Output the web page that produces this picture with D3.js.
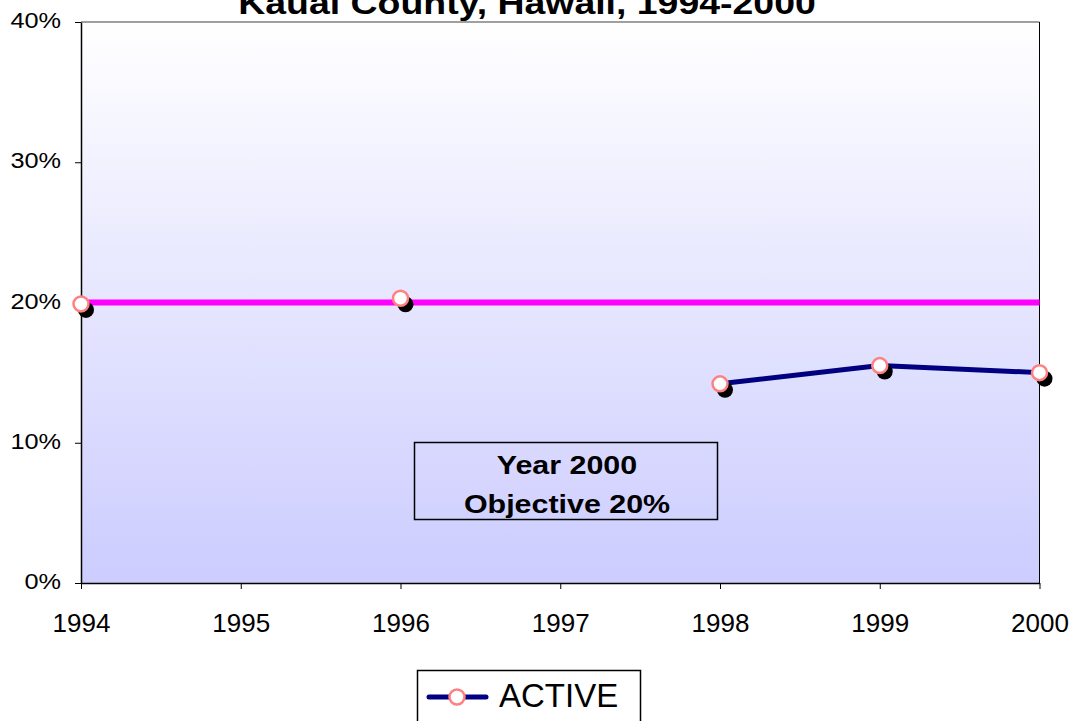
<!DOCTYPE html>
<html>
<head>
<meta charset="utf-8">
<script src="https://cdn.jsdelivr.net/npm/d3@7"></script>
<style>
  body { margin: 0; background: #fff; }
  svg { display: block; font-family: "Liberation Sans", Arial, sans-serif; }
</style>
</head>
<body>
<div id="chart"></div>
<script>
// Chart data
const years = [1994, 1995, 1996, 1997, 1998, 1999, 2000];
const activeValues = [19.9, null, 20.3, null, 14.2, 15.5, 15.0];
const objectiveValues = [20, 20, 20, 20, 20, 20, 20];
const yTicks = [0, 10, 20, 30, 40];
const titleText = 'Kauai County, Hawaii, 1994-2000';
const noteLines = ['Year 2000', 'Objective 20%'];
const legendLabel = 'ACTIVE';

const width = 1074;
const height = 721;
const margin = { top: 22, right: 34, bottom: 138, left: 81 };

const svg = d3.select('#chart')
    .append('svg')
    .attr('width', width)
    .attr('height', height);

const x = d3.scaleLinear()
    .domain([1994, 2000])
    .range([margin.left, width - margin.right - 0.5]);

const y = d3.scaleLinear()
    .domain([0, 40])
    .range([height - margin.bottom, margin.top]);

// Background gradient for the plot area
const defs = svg.append('defs');
const grad = defs.append('linearGradient')
    .attr('id', 'bg')
    .attr('x1', 0).attr('y1', 0)
    .attr('x2', 0).attr('y2', 1);
grad.append('stop').attr('offset', '0%').attr('stop-color', '#ffffff');
grad.append('stop').attr('offset', '100%').attr('stop-color', '#ccccff');

svg.append('rect')
    .attr('x', x(1994))
    .attr('y', y(40))
    .attr('width', x(2000) - x(1994))
    .attr('height', y(0) - y(40))
    .attr('fill', 'url(#bg)');

// Plot border: gray top, black right
svg.append('line')
    .attr('x1', x(1994)).attr('x2', x(2000))
    .attr('y1', y(40)).attr('y2', y(40))
    .attr('stroke', '#808080')
    .attr('stroke-width', 1.5);
svg.append('line')
    .attr('x1', x(2000)).attr('x2', x(2000))
    .attr('y1', y(40)).attr('y2', y(0))
    .attr('stroke', '#000')
    .attr('stroke-width', 1);

// Axes
const xAxis = svg.append('g')
    .attr('transform', `translate(0,${y(0)})`)
    .call(d3.axisBottom(x).tickValues(years).tickFormat(d3.format('d')).tickSize(6).tickSizeOuter(0));
xAxis.select('.domain').attr('stroke', '#000').attr('stroke-width', 1.5);
xAxis.selectAll('.tick line').attr('stroke', '#000');
xAxis.selectAll('.tick text')
    .attr('font-size', 26)
    .attr('font-family', '"Liberation Sans", Arial, sans-serif')
    .attr('fill', '#000')
    .attr('y', 0)
    .attr('dy', 0)
    .attr('transform', 'translate(0,49)');

const yAxis = svg.append('g')
    .attr('transform', `translate(${x(1994)},0)`)
    .call(d3.axisLeft(y).tickValues(yTicks).tickFormat(d => d + '%').tickSize(6).tickSizeOuter(0));
yAxis.select('.domain').attr('stroke', '#000').attr('stroke-width', 1.5);
yAxis.selectAll('.tick line').attr('stroke', '#000');
yAxis.selectAll('.tick text')
    .attr('font-size', 22)
    .attr('font-family', '"Liberation Sans", Arial, sans-serif')
    .attr('fill', '#000')
    .attr('x', 0)
    .attr('dy', '0.3em')
    .attr('transform', 'translate(-20,-1) scale(1.15,1)');

// Objective line
const objLine = d3.line()
    .x((d, i) => x(years[i]))
    .y(d => y(d));
svg.append('path')
    .datum(objectiveValues)
    .attr('d', objLine)
    .attr('fill', 'none')
    .attr('stroke', '#ff00ff')
    .attr('stroke-width', 6);

// Active series line (breaks where values are missing)
const activeLine = d3.line()
    .defined(d => d != null)
    .x((d, i) => x(years[i]))
    .y(d => y(d));
svg.append('path')
    .datum(activeValues)
    .attr('d', activeLine)
    .attr('fill', 'none')
    .attr('stroke', '#000080')
    .attr('stroke-width', 5);

const pts = years.map((yr, i) => ({ year: yr, value: activeValues[i] }))
    .filter(d => d.value != null);

// Marker shadows
svg.append('g')
    .selectAll('circle')
    .data(pts)
    .join('circle')
    .attr('cx', d => x(d.year) + 5)
    .attr('cy', d => y(d.value) + 6)
    .attr('r', 8)
    .attr('fill', '#000');

// Markers
svg.append('g')
    .selectAll('circle')
    .data(pts)
    .join('circle')
    .attr('cx', d => x(d.year))
    .attr('cy', d => y(d.value))
    .attr('r', 7.5)
    .attr('fill', '#fff')
    .attr('stroke', '#ff8080')
    .attr('stroke-width', 2.5);

// Title (partly cut off at the top)
svg.append('text')
    .attr('transform', 'translate(527,14) scale(1.17,1)')
    .attr('text-anchor', 'middle')
    .attr('font-size', 32)
    .attr('font-weight', 'bold')
    .text(titleText);

// Annotation box
svg.append('rect')
    .attr('x', 414.5)
    .attr('y', 442.5)
    .attr('width', 303)
    .attr('height', 77)
    .attr('fill', 'none')
    .attr('stroke', '#000')
    .attr('stroke-width', 1.5);

svg.append('g')
    .selectAll('text')
    .data(noteLines)
    .join('text')
    .attr('transform', (d, i) => `translate(567,${474 + i * 39}) scale(1.17,1)`)
    .attr('text-anchor', 'middle')
    .attr('font-size', 26)
    .attr('font-weight', 'bold')
    .text(d => d);

// Legend
const legend = svg.append('g');
legend.append('rect')
    .attr('x', 417.5)
    .attr('y', 670.5)
    .attr('width', 223)
    .attr('height', 60)
    .attr('fill', '#fff')
    .attr('stroke', '#000')
    .attr('stroke-width', 1.5);
legend.append('line')
    .attr('x1', 429).attr('x2', 486)
    .attr('y1', 697).attr('y2', 697)
    .attr('stroke', '#000080')
    .attr('stroke-width', 5)
    .attr('stroke-linecap', 'round');
legend.append('circle')
    .attr('cx', 457)
    .attr('cy', 697)
    .attr('r', 7.5)
    .attr('fill', '#fff')
    .attr('stroke', '#ff8080')
    .attr('stroke-width', 2.5);
legend.append('text')
    .attr('x', 499)
    .attr('y', 707)
    .attr('font-size', 33)
    .text(legendLabel);
</script>
</body>
</html>
